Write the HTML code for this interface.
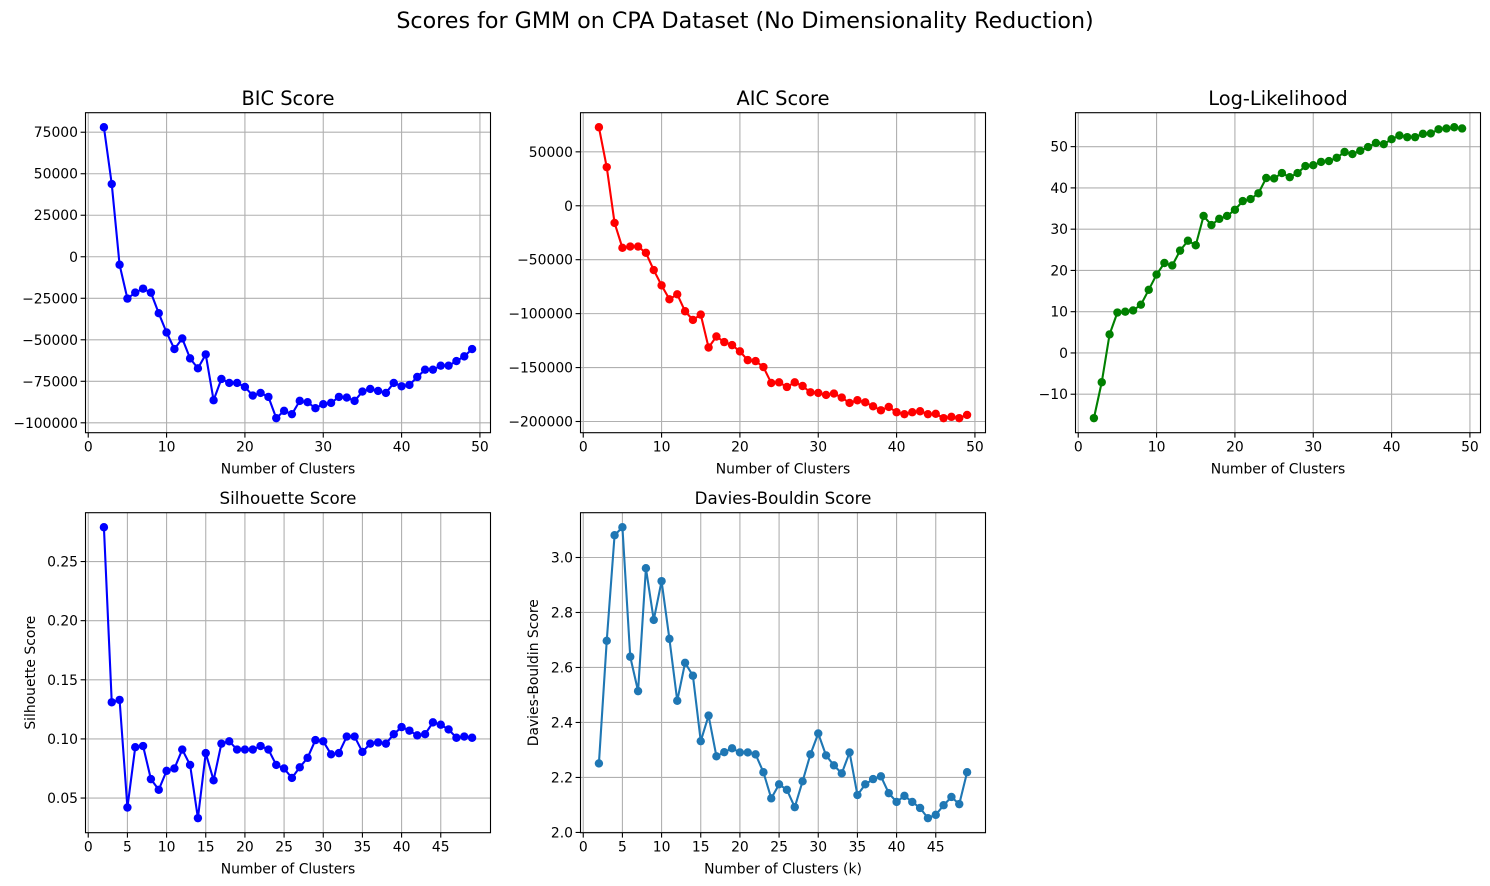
<!DOCTYPE html>
<html><head><meta charset="utf-8">
<style>
html,body{margin:0;padding:0;background:#fff;}
svg{display:block;font-family:"DejaVu Sans","Liberation Sans",sans-serif;}
</style></head>
<body>
<svg id="fig" width="1490" height="886" viewBox="0 0 1490 886" xmlns="http://www.w3.org/2000/svg">
<rect width="1490" height="886" fill="#fff"/>
<text x="745" y="28" text-anchor="middle" font-size="22.2" fill="#000">Scores for GMM on CPA Dataset (No Dimensionality Reduction)</text>
</svg>
<script>
const ks = [];
for (let k = 2; k <= 49; k++) ks.push(k);
const bicValues = [78000,43800,-4800,-25200,-21600,-19200,-21600,-34000,-45600,-55600,-49200,-61200,-67200,-58800,-86400,-73600,-76000,-76000,-78400,-83600,-82000,-84400,-97200,-92800,-94800,-86800,-87600,-91200,-88800,-88000,-84400,-84800,-86800,-81200,-79600,-80800,-82000,-76000,-78000,-77200,-72400,-68000,-68000,-65600,-65600,-62800,-60000,-55600];
const aicValues = [72800,35800,-15900,-39000,-37800,-37800,-43600,-59600,-73800,-86700,-82100,-97800,-105800,-100900,-131400,-121200,-126400,-129200,-135000,-143100,-144000,-149500,-164300,-163700,-168000,-163700,-167100,-172900,-173500,-175400,-174100,-177800,-182800,-180300,-182200,-185900,-189600,-186500,-191400,-193200,-191400,-190500,-193200,-192900,-196900,-195700,-196900,-193900];
const llValues = [-15.8,-7.1,4.5,9.8,10.0,10.3,11.7,15.3,19.0,21.8,21.2,24.8,27.2,26.1,33.2,31.0,32.5,33.2,34.7,36.8,37.3,38.7,42.4,42.3,43.6,42.6,43.6,45.3,45.5,46.3,46.5,47.3,48.7,48.2,49.0,49.9,50.9,50.6,51.8,52.7,52.3,52.3,53.1,53.2,54.2,54.4,54.7,54.4];
const silValues = [0.279,0.131,0.133,0.042,0.093,0.094,0.066,0.057,0.073,0.075,0.091,0.078,0.033,0.088,0.065,0.096,0.098,0.091,0.091,0.091,0.094,0.091,0.078,0.075,0.067,0.076,0.084,0.099,0.098,0.087,0.088,0.102,0.102,0.089,0.096,0.097,0.096,0.104,0.110,0.107,0.103,0.104,0.114,0.112,0.108,0.101,0.102,0.101];
const dbValues = [2.251,2.697,3.081,3.110,2.639,2.514,2.961,2.773,2.914,2.704,2.479,2.617,2.570,2.332,2.425,2.277,2.292,2.306,2.291,2.291,2.284,2.219,2.124,2.175,2.155,2.092,2.186,2.284,2.360,2.280,2.244,2.215,2.291,2.136,2.175,2.194,2.204,2.143,2.111,2.133,2.111,2.089,2.052,2.064,2.099,2.129,2.103,2.219];
const xTicksTop = [0,10,20,30,40,50];
const xTicksBottom = [0,5,10,15,20,25,30,35,40,45];
const bicTicks = [-100000,-75000,-50000,-25000,0,25000,50000,75000];
const aicTicks = [-200000,-150000,-100000,-50000,0,50000];
const llTicks = [-10,0,10,20,30,40,50];
const silTicks = [0.05,0.10,0.15,0.20,0.25];
const dbTicks = [2.0,2.2,2.4,2.6,2.8,3.0];

const NS = "http://www.w3.org/2000/svg";
const fig = document.getElementById('fig');
function mk(tag, attrs, parent) {
  const e = document.createElementNS(NS, tag);
  for (const k in attrs) e.setAttribute(k, attrs[k]);
  (parent || fig).appendChild(e);
  return e;
}
function fmt(v, dec) {
  const s = Math.abs(v).toFixed(dec);
  return (v < 0 ? "\u2212" : "") + s;
}
function plot(cfg) {
  const L = cfg.left, T = cfg.top, W = 405, H = 320;
  const g = mk('g', {});
  
  
  const xmin = Math.min(...ks), xmax = Math.max(...ks), xm = (xmax - xmin) * 0.05;
  const ymin = Math.min(...cfg.values), ymax = Math.max(...cfg.values), ym = (ymax - ymin) * 0.05;
  const x0 = xmin - xm, x1 = xmax + xm, y0 = ymin - ym, y1 = ymax + ym;
  const sx = v => L + (v - x0) / (x1 - x0) * W;
  const sy = v => T + H - (v - y0) / (y1 - y0) * H;
  cfg.xticks.forEach(t => {
    const x = sx(t);
    if (x < L - 0.5 || x > L + W + 0.5) return;
    const gl = mk('line', {x1:x, x2:x, y1:T, y2:T+H, stroke:'#b0b0b0', 'stroke-width':1.1}, g);
    
    
    mk('line', {x1:x, x2:x, y1:T+H, y2:T+H+4.9, stroke:'#000', 'stroke-width':1.1}, g);
    const tl = mk('text', {x:x, y:T+H+19, 'text-anchor':'middle', 'font-size':13.9, fill:'#000'}, g);
    
    
    tl.textContent = fmt(t, 0);
  });
  cfg.yticks.forEach(t => {
    const y = sy(t);
    if (y < T - 0.5 || y > T + H + 0.5) return;
    const gl = mk('line', {x1:L, x2:L+W, y1:y, y2:y, stroke:'#b0b0b0', 'stroke-width':1.1}, g);
    
    
    mk('line', {x1:L-4.9, x2:L, y1:y, y2:y, stroke:'#000', 'stroke-width':1.1}, g);
    const tl = mk('text', {x:L-7.5, y:y+5, 'text-anchor':'end', 'font-size':13.9, fill:'#000'}, g);
    
    
    tl.textContent = fmt(t, cfg.dec);
  });
  const pts = ks.map((k, i) => sx(k).toFixed(2) + ',' + sy(cfg.values[i]).toFixed(2)).join(' ');
  const line = mk('polyline', {points:pts, fill:'none', stroke:cfg.color, 'stroke-width':2.1, 'stroke-linejoin':'round'}, g);
  
  
  ks.forEach((k, i) => {
    const c = mk('circle', {cx:sx(k), cy:sy(cfg.values[i]), r:4.2, fill:cfg.color}, g);
    
    
  });
  const fr = mk('rect', {x:L, y:T, width:W, height:H, fill:'none', stroke:'#000', 'stroke-width':1.1}, g);
  
  
  const tt = mk('text', {x:L+W/2, y:cfg.titleY, 'text-anchor':'middle', 'font-size':cfg.titleSize, fill:'#000'}, g);
  
  
  tt.textContent = cfg.title;
  const xl = mk('text', {x:L+W/2, y:T+H+41, 'text-anchor':'middle', 'font-size':13.9, fill:'#000'}, g);
  
  
  xl.textContent = cfg.xlabel;
  if (cfg.ylabel) {
    const yx = cfg.ylabelX, yy = T + H/2;
    const yl = mk('text', {x:yx, y:yy, 'text-anchor':'middle', 'font-size':13.9, fill:'#000', transform:'rotate(-90 '+yx+' '+yy+')'}, g);
    
    
    yl.textContent = cfg.ylabel;
  }
}
plot({name:'bic-chart', left:85.5, top:112.7, values:bicValues, xticks:xTicksTop, yticks:bicTicks, dec:0, color:'#0000ff', title:'BIC Score', titleY:105, titleSize:19.4, xlabel:'Number of Clusters'});
plot({name:'aic-chart', left:580.5, top:112.7, values:aicValues, xticks:xTicksTop, yticks:aicTicks, dec:0, color:'#ff0000', title:'AIC Score', titleY:105, titleSize:19.4, xlabel:'Number of Clusters'});
plot({name:'log-likelihood-chart', left:1075.5, top:112.7, values:llValues, xticks:xTicksTop, yticks:llTicks, dec:0, color:'#008000', title:'Log-Likelihood', titleY:105, titleSize:19.4, xlabel:'Number of Clusters'});
plot({name:'silhouette-chart', left:85.5, top:512.7, values:silValues, xticks:xTicksBottom, yticks:silTicks, dec:2, color:'#0000ff', title:'Silhouette Score', titleY:504, titleSize:16.7, xlabel:'Number of Clusters', ylabel:'Silhouette Score', ylabelX:35});
plot({name:'davies-bouldin-chart', left:580.5, top:512.7, values:dbValues, xticks:xTicksBottom, yticks:dbTicks, dec:1, color:'#1f77b4', title:'Davies-Bouldin Score', titleY:504, titleSize:16.7, xlabel:'Number of Clusters (k)', ylabel:'Davies-Bouldin Score', ylabelX:538});
</script>
</body></html>
